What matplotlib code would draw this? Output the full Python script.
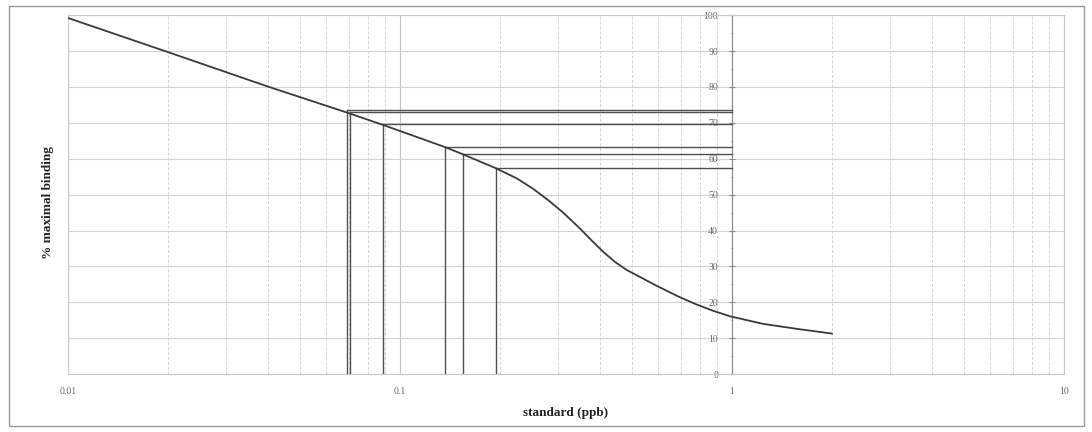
import matplotlib
matplotlib.use("Agg")
import matplotlib.pyplot as plt
from matplotlib.patches import Rectangle
from matplotlib.ticker import FixedLocator, FixedFormatter, NullFormatter

# curve (standard in ppb, % maximal binding)
conc = [0.01, 0.02, 0.04, 0.069, 0.089, 0.137, 0.155, 0.195, 0.225, 0.252,
        0.28, 0.31, 0.348, 0.38, 0.409, 0.445, 0.482, 0.54, 0.593, 0.69,
        0.782, 0.88, 0.987, 1.24, 1.57, 2.0]
binding = [99.2, 89.7, 80.1, 72.9, 69.4, 63.2, 61.2, 57.3, 54.5, 51.6,
           48.4, 45.0, 40.6, 37.0, 34.1, 31.2, 29.0, 26.6, 24.6, 21.6,
           19.4, 17.6, 16.1, 14.0, 12.6, 11.3]

# sample readings (drop lines)
sample_x = [0.069, 0.0705, 0.089, 0.137, 0.155, 0.195]
sample_y = [73.5, 73.0, 69.6, 63.2, 61.3, 57.3]

x_ticks = [0.01, 0.1, 1, 10]
x_labels = ["0.01", "0.1", "1", "10"]
y_ticks = list(range(0, 101, 10))

serif = ["Liberation Serif", "DejaVu Serif"]
grid_c = "#d2d2d2"
line_c = "#3a3a3a"

fig = plt.figure(figsize=(10.92, 4.32), dpi=100)
ax = fig.add_axes([0.0623, 0.134, 0.912, 0.831])

ax.set_xscale("log")
ax.set_xlim(0.01, 10)
ax.set_ylim(0, 100)

# grid
minors = [m * 10.0 ** e for e in (-2, -1, 0) for m in range(2, 10)]
for v in minors:
    ax.axvline(v, color=grid_c, lw=0.7, ls=(0, (3, 2)), zorder=0)
for v in x_ticks:
    ax.axvline(v, color="#c4c4c4", lw=0.8, zorder=0)
for v in y_ticks:
    ax.axhline(v, color=grid_c, lw=0.8, zorder=0)

# curve
ax.plot(conc, binding, color=line_c, lw=1.3, zorder=4)

# drop lines from each sample to the y axis (at x=1) and down to 0
for sx, sy in zip(sample_x, sample_y):
    ax.plot([sx, 1], [sy, sy], color="#505050", lw=1.0, zorder=3)
    ax.plot([sx, sx], [sy, 0], color="#505050", lw=1.0, zorder=3)

# y axis crossing at x=1
for s in ("top", "right", "bottom"):
    ax.spines[s].set_color("#c8c8c8")
    ax.spines[s].set_linewidth(0.8)
ax.spines["left"].set_position(("data", 1))
ax.spines["left"].set_color("#8a8a8a")
ax.spines["left"].set_linewidth(0.8)
ax.axvline(0.01, color="#c8c8c8", lw=0.8, zorder=0)

ax.yaxis.set_major_locator(FixedLocator(y_ticks))
ax.yaxis.set_minor_locator(FixedLocator([v + 5 for v in y_ticks[:-1]]))
ax.tick_params(axis="y", which="major", direction="inout", length=4,
               color="#8a8a8a", labelsize=7, labelcolor="#6a6a6a", pad=8)
ax.tick_params(axis="y", which="minor", direction="inout", length=2,
               color="#9a9a9a")
for lab in ax.get_yticklabels():
    lab.set_family(serif)

ax.xaxis.set_major_locator(FixedLocator(x_ticks))
ax.xaxis.set_major_formatter(FixedFormatter(x_labels))
ax.xaxis.set_minor_formatter(NullFormatter())
ax.tick_params(axis="x", which="both", length=0, labelsize=7,
               labelcolor="#6a6a6a", pad=9)
for lab in ax.get_xticklabels():
    lab.set_family(serif)

ax.set_xlabel("standard (ppb)", family=serif, fontsize=9.5,
              fontweight="bold", color="#222222", labelpad=8)
fig.text(0.044, 0.53, "% maximal binding", family=serif, fontsize=9.5,
         fontweight="bold", color="#222222", rotation=90,
         ha="center", va="center")

# outer frame of the scanned figure
fig.patches.append(Rectangle((0.008, 0.015), 0.985, 0.97,
                             transform=fig.transFigure, fill=False,
                             edgecolor="#9a9a9a", lw=1.0))

plt.savefig("out.png", dpi=100)
